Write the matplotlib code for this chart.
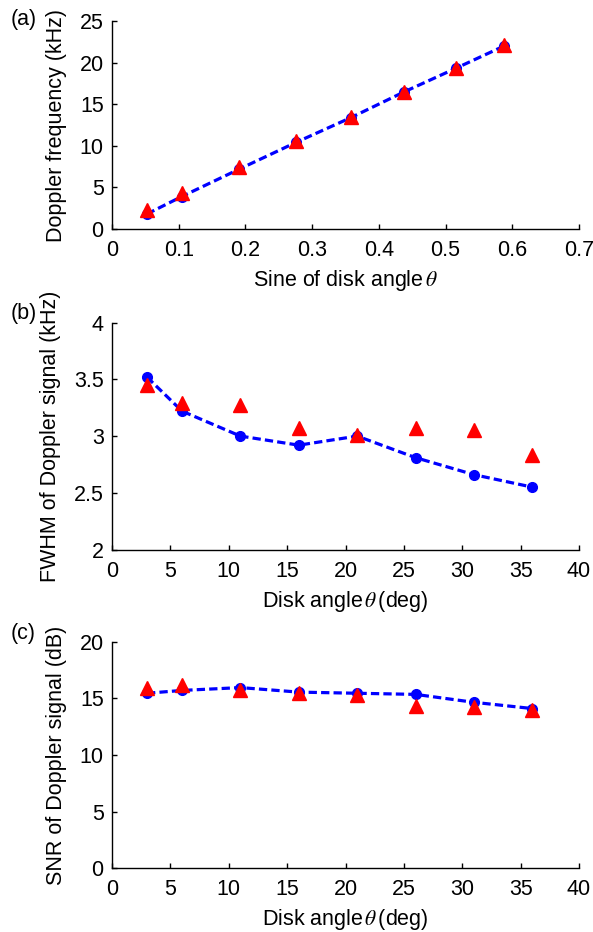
import matplotlib
matplotlib.use("Agg")
import matplotlib.pyplot as plt

plt.rcParams['font.family'] = ['Liberation Sans', 'DejaVu Sans']
plt.rcParams['mathtext.fontset'] = 'stix'
plt.rcParams['font.size'] = 15.5

# disk angles (deg) and their sines
angle_deg = [3, 6, 11, 16, 21, 26, 31, 36]
sine_angle = [0.0523, 0.1045, 0.1908, 0.2756, 0.3584, 0.4384, 0.5150, 0.5878]

# (a) Doppler frequency (kHz)
freq_calc = [1.8, 3.9, 7.2, 10.4, 13.4, 16.5, 19.3, 22.0]
freq_meas = [2.3, 4.3, 7.5, 10.6, 13.5, 16.5, 19.3, 22.1]

# (b) FWHM of Doppler signal (kHz)
fwhm_calc = [3.52, 3.22, 3.0, 2.92, 3.0, 2.81, 2.66, 2.55]
fwhm_meas = [3.45, 3.29, 3.27, 3.07, 3.01, 3.07, 3.05, 2.83]

# (c) SNR of Doppler signal (dB)
snr_calc = [15.45, 15.7, 15.95, 15.55, 15.45, 15.35, 14.65, 14.1]
snr_meas = [15.95, 16.15, 15.75, 15.45, 15.3, 14.35, 14.25, 14.0]

sine_ticks = [0, 0.1, 0.2, 0.3, 0.4, 0.5, 0.6, 0.7]
sine_ticklabels = ['0', '0.1', '0.2', '0.3', '0.4', '0.5', '0.6', '0.7']
fwhm_ticks = [2, 2.5, 3, 3.5, 4]
fwhm_ticklabels = ['2', '2.5', '3', '3.5', '4']

fig = plt.figure(figsize=(5.93, 9.32), dpi=100)
W, H = 593, 932
left, right = 112 / W, 579 / W


def make_axes(top_px, bot_px):
    return fig.add_axes([left, 1 - bot_px / H, right - left, (bot_px - top_px) / H])


def style(ax):
    for s in ('top', 'right'):
        ax.spines[s].set_visible(False)
    for s in ('left', 'bottom'):
        ax.spines[s].set_linewidth(1.0)
    ax.tick_params(direction='in', length=3.5, width=1.0)
    ax.tick_params(axis='x', pad=8)
    ax.tick_params(axis='y', pad=6)


def draw(ax, x, calc, meas):
    ax.plot(x, calc, color='#0000ff', lw=2.3, ls='--', dashes=(2.6, 1.3),
            marker='o', ms=7, mec='#0000ff', mfc='#0000ff', zorder=2)
    ax.plot(x, meas, ls='none', marker='^', ms=9.5, color='#ff0000', zorder=3)


ax1 = make_axes(21, 229)
draw(ax1, sine_angle, freq_calc, freq_meas)
ax1.set_xlim(0, 0.7)
ax1.set_ylim(0, 25)
ax1.set_xticks(sine_ticks)
ax1.set_xticklabels(sine_ticklabels)
ax1.set_yticks([0, 5, 10, 15, 20, 25])
ax1.set_xlabel(r'Sine of disk angle$\,\theta$', labelpad=5)
ax1.set_ylabel('Doppler frequency (kHz)', labelpad=9)
style(ax1)

ax2 = make_axes(322.7, 549.5)
draw(ax2, angle_deg, fwhm_calc, fwhm_meas)
ax2.set_xlim(0, 40)
ax2.set_ylim(2, 4)
ax2.set_xticks(range(0, 41, 5))
ax2.set_yticks(fwhm_ticks)
ax2.set_yticklabels(fwhm_ticklabels)
ax2.set_xlabel(r'Disk angle$\,\theta\,$(deg)', labelpad=5)
ax2.set_ylabel('FWHM of Doppler signal (kHz)', labelpad=9)
style(ax2)

ax3 = make_axes(641.7, 868.3)
draw(ax3, angle_deg, snr_calc, snr_meas)
ax3.set_xlim(0, 40)
ax3.set_ylim(0, 20)
ax3.set_xticks(range(0, 41, 5))
ax3.set_yticks([0, 5, 10, 15, 20])
ax3.set_xlabel(r'Disk angle$\,\theta\,$(deg)', labelpad=5)
ax3.set_ylabel('SNR of Doppler signal (dB)', labelpad=9)
style(ax3)

for lab, ypx in [('(a)', 20), ('(b)', 313), ('(c)', 633)]:
    fig.text(11 / W, 1 - ypx / H, lab, ha='left', va='center')

fig.savefig('out.png', dpi=100)
